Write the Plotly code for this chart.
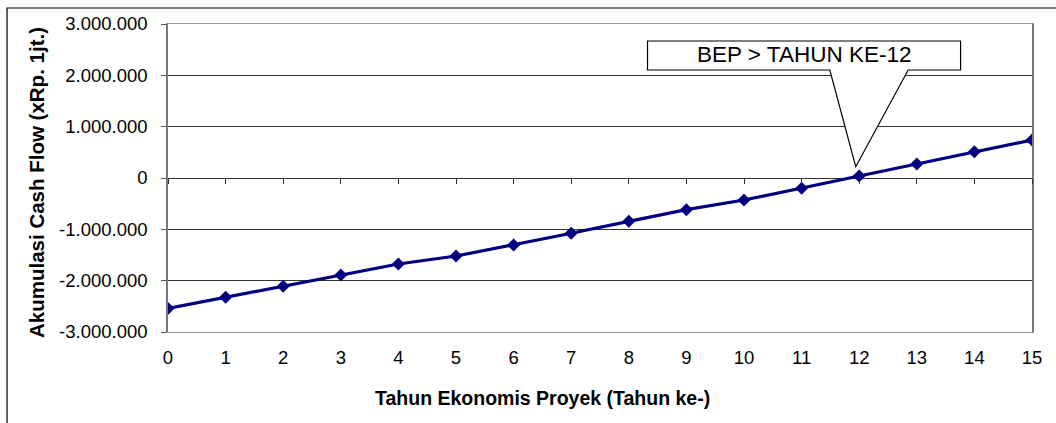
import plotly.graph_objects as go

years = list(range(0, 16))
cum_cash_flow = [-2540000, -2324000, -2110000, -1890000, -1675000, -1520000, -1305000,
                 -1077000, -844000, -617000, -429000, -201000, 39000, 273000, 513000, 740000]
y_tickvals = [-3000000, -2000000, -1000000, 0, 1000000, 2000000, 3000000]
y_ticktext = ["-3.000.000", "-2.000.000", "-1.000.000", "0", "1.000.000", "2.000.000", "3.000.000"]
x_title = "Tahun Ekonomis Proyek (Tahun ke-)"
y_title = "Akumulasi Cash Flow (xRp. 1jt.)"
callout_text = "BEP > TAHUN KE-12"

FONT = "Liberation Sans, Arial, sans-serif"
NAVY = "#000080"

fig = go.Figure()
fig.add_trace(go.Scatter(
    x=years, y=cum_cash_flow, mode="lines+markers",
    line=dict(color=NAVY, width=3.2),
    marker=dict(symbol="diamond", size=10, color=NAVY),
    showlegend=False, hoverinfo="x+y",
))
# invisible trace to carry the tick axis at zero
fig.add_trace(go.Scatter(
    x=years, y=cum_cash_flow, mode="lines", xaxis="x2",
    line=dict(color="rgba(0,0,0,0)", width=0),
    showlegend=False, hoverinfo="skip",
))

# callout (box + pointer) in data coordinates
bx0, bx1, by0, by1 = 8.325, 13.76, 2.104e6, 2.669e6
px0, px1, tipx, tipy = 11.49, 12.85, 11.94, 0.22e6
path = (f"M {bx0},{by1} L {bx1},{by1} L {bx1},{by0} L {px1},{by0} L {tipx},{tipy} "
        f"L {px0},{by0} L {bx0},{by0} Z")
fig.add_shape(type="path", path=path, xref="x", yref="y",
              fillcolor="white", line=dict(color="black", width=1.2), layer="above")
fig.add_annotation(x=(bx0 + bx1) / 2, y=(by0 + by1) / 2 + 0.02e6, xref="x", yref="y",
                   text=callout_text, showarrow=False,
                   font=dict(family=FONT, size=22.5, color="black"))

# outer chart border (extends beyond the visible image at right/bottom)
fig.add_shape(type="rect", xref="paper", yref="paper",
              x0=-0.1863, x1=1.2, y0=-0.6, y1=1.052,
              line=dict(color="black", width=1.2), fillcolor="rgba(0,0,0,0)", layer="below")

fig.add_annotation(x=0.433, y=-0.214, xref="paper", yref="paper", text=f"<b>{x_title}</b>",
                   showarrow=False, font=dict(family=FONT, size=19.5, color="black"),
                   xanchor="center", yanchor="middle")
fig.add_annotation(x=-0.1528, y=0.487, xref="paper", yref="paper", text=f"<b>{y_title}</b>",
                   showarrow=False, textangle=-90, font=dict(family=FONT, size=20.5, color="black"),
                   xanchor="center", yanchor="middle")

fig.update_layout(
    width=1056, height=423,
    margin=dict(l=168, r=24, t=24, b=91),
    paper_bgcolor="white", plot_bgcolor="white",
    font=dict(family=FONT, size=18.5, color="black"),
    xaxis=dict(range=[0, 15], tickvals=years, ticktext=[str(v) for v in years],
               ticks="", showgrid=False, zeroline=False,
               showline=True, linecolor="#999999", linewidth=1.2, mirror=True,
               ticklabelstandoff=9, tickfont=dict(size=18.5)),
    xaxis2=dict(range=[0, 15], overlaying="x", anchor="free", position=0.5,
                tickvals=years, ticks="outside", ticklen=5, tickcolor="#333333", tickwidth=1,
                showticklabels=False, showgrid=False, zeroline=False, showline=False),
    yaxis=dict(range=[-3e6, 3e6], tickvals=y_tickvals, ticktext=y_ticktext,
               ticks="outside", ticklen=5, tickcolor="#555555",
               showgrid=True, gridcolor="#333333", gridwidth=1,
               zeroline=True, zerolinecolor="#333333", zerolinewidth=1.2,
               showline=True, linecolor="#777777", linewidth=1.5, mirror=True,
               ticklabelstandoff=10, tickfont=dict(size=18.5)),
)

fig.write_html("out.html", config={"displayModeBar": False},
               post_script="document.body.style.margin='0';document.body.style.overflow='hidden';")
